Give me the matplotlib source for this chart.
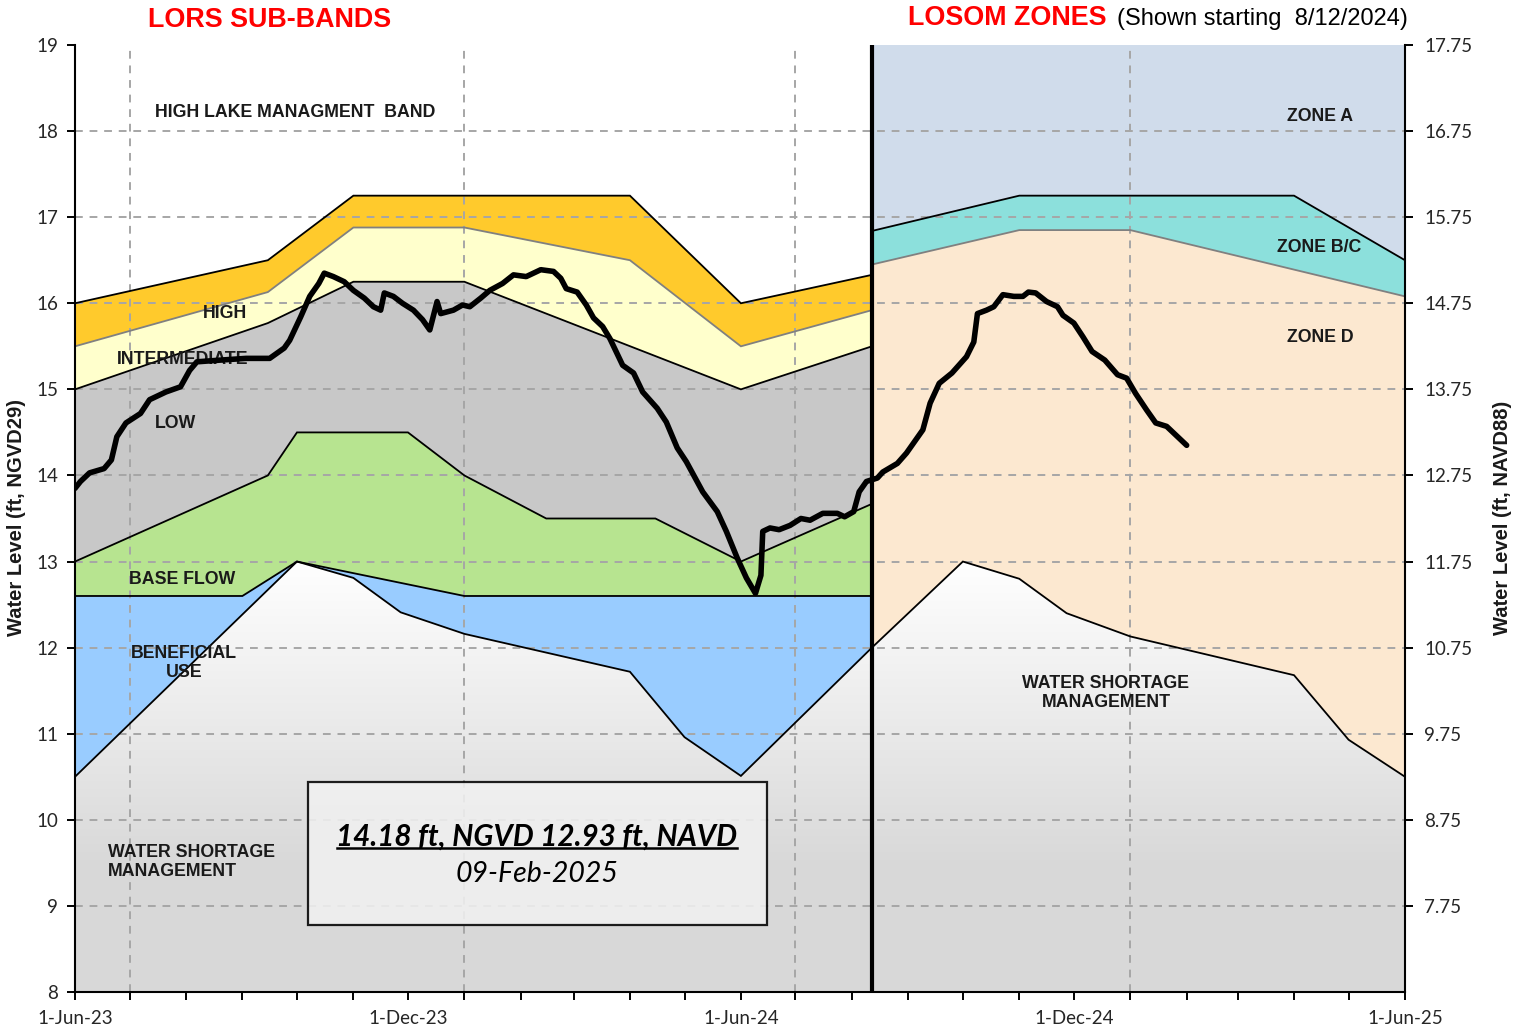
import matplotlib
matplotlib.use('Agg')
import matplotlib.pyplot as plt
import matplotlib.dates as mdates
import matplotlib.patches as mpatches
from matplotlib.lines import Line2D
import numpy as np
import pandas as pd

# ---------------- data ----------------
# LORS sub-band boundaries (ft NGVD29)
top_dates = ['2023-06-01', '2023-09-15', '2023-11-01', '2024-04-01', '2024-06-01', '2024-08-12']
top_vals = [16.0, 16.5, 17.25, 17.25, 16.0, 16.33]
hi_int_dates = ['2023-06-01', '2023-09-15', '2023-11-01', '2024-01-01', '2024-04-01', '2024-06-01', '2024-08-12']
hi_int_vals = [15.5, 16.13, 16.88, 16.88, 16.5, 15.5, 15.92]
int_low_dates = ['2023-06-01', '2023-09-15', '2023-11-01', '2024-01-01', '2024-06-01', '2024-08-12']
int_low_vals = [15.0, 15.77, 16.25, 16.25, 15.0, 15.5]
low_base_dates = ['2023-06-01', '2023-09-15', '2023-10-01', '2023-12-01', '2024-01-01', '2024-02-15',
                  '2024-04-15', '2024-06-01', '2024-08-12']
low_base_vals = [13.0, 14.0, 14.5, 14.5, 14.0, 13.5, 13.5, 13.0, 13.67]
base_ben_dates = ['2023-06-01', '2023-09-01', '2023-10-01', '2024-01-01', '2024-08-12']
base_ben_vals = [12.6, 12.6, 13.0, 12.6, 12.6]
lors_ws_dates = ['2023-06-01', '2023-10-01', '2023-11-01', '2023-11-27', '2024-01-01', '2024-04-01',
                 '2024-05-01', '2024-06-01', '2024-08-12']
lors_ws_vals = [10.5, 13.0, 12.81, 12.41, 12.16, 11.72, 10.96, 10.51, 12.0]

# LOSOM zone boundaries
losom_a_dates = ['2024-08-12', '2024-11-01', '2025-04-01', '2025-06-01']
losom_a_vals = [16.84, 17.25, 17.25, 16.5]
losom_bc_dates = ['2024-08-12', '2024-11-01', '2025-01-01', '2025-06-01']
losom_bc_vals = [16.45, 16.85, 16.85, 16.08]
losom_ws_dates = ['2024-08-12', '2024-10-01', '2024-11-01', '2024-11-27', '2025-01-01', '2025-04-01',
                  '2025-05-01', '2025-06-01']
losom_ws_vals = [12.0, 13.0, 12.8, 12.40, 12.13, 11.68, 10.93, 10.5]

# Observed lake stage
level_dates = ['2023-06-01', '2023-06-04', '2023-06-09', '2023-06-17', '2023-06-21', '2023-06-24', '2023-06-29',
               '2023-07-07', '2023-07-12', '2023-07-21', '2023-07-29', '2023-08-03', '2023-08-07', '2023-08-20',
               '2023-09-03', '2023-09-16', '2023-09-24', '2023-09-27', '2023-10-03', '2023-10-08', '2023-10-13',
               '2023-10-16', '2023-10-21', '2023-10-27', '2023-11-01', '2023-11-07', '2023-11-12', '2023-11-16',
               '2023-11-18', '2023-11-23', '2023-11-28', '2023-12-04', '2023-12-09', '2023-12-13', '2023-12-17',
               '2023-12-19', '2023-12-26', '2023-12-31', '2024-01-04', '2024-01-10', '2024-01-15', '2024-01-22',
               '2024-01-28', '2024-02-04', '2024-02-12', '2024-02-19', '2024-02-23', '2024-02-26', '2024-03-03',
               '2024-03-08', '2024-03-12', '2024-03-17', '2024-03-21', '2024-03-28', '2024-04-03', '2024-04-08',
               '2024-04-16', '2024-04-21', '2024-04-27', '2024-05-02', '2024-05-11', '2024-05-19', '2024-05-24',
               '2024-05-30', '2024-06-04', '2024-06-09', '2024-06-12', '2024-06-13', '2024-06-17', '2024-06-22',
               '2024-06-28', '2024-07-04', '2024-07-09', '2024-07-16', '2024-07-24', '2024-07-28', '2024-08-02',
               '2024-08-05', '2024-08-09', '2024-08-15', '2024-08-18', '2024-08-26', '2024-08-31', '2024-09-09',
               '2024-09-13', '2024-09-18', '2024-09-25', '2024-10-03', '2024-10-07', '2024-10-09', '2024-10-14',
               '2024-10-18', '2024-10-23', '2024-10-29', '2024-11-03', '2024-11-06', '2024-11-10', '2024-11-16',
               '2024-11-22', '2024-11-25', '2024-12-01', '2024-12-06', '2024-12-11', '2024-12-18', '2024-12-25',
               '2024-12-30', '2025-01-04', '2025-01-10', '2025-01-15', '2025-01-21', '2025-01-26', '2025-02-01']
level_vals = [13.85, 13.93, 14.03, 14.08, 14.18, 14.45, 14.61,
              14.72, 14.88, 14.97, 15.03, 15.22, 15.32, 15.34,
              15.36, 15.36, 15.48, 15.57, 15.84, 16.08, 16.23,
              16.35, 16.31, 16.25, 16.15, 16.06, 15.96, 15.92,
              16.12, 16.08, 16.00, 15.92, 15.81, 15.69, 16.02,
              15.88, 15.92, 15.98, 15.96, 16.06, 16.15, 16.23,
              16.33, 16.31, 16.39, 16.37, 16.29, 16.17, 16.13,
              15.98, 15.83, 15.73, 15.59, 15.28, 15.19, 14.97,
              14.78, 14.62, 14.32, 14.16, 13.81, 13.58, 13.35,
              13.04, 12.81, 12.63, 12.84, 13.35, 13.39, 13.37,
              13.42, 13.50, 13.48, 13.56, 13.56, 13.52, 13.58,
              13.81, 13.93, 13.97, 14.04, 14.14, 14.26, 14.53,
              14.84, 15.07, 15.19, 15.38, 15.55, 15.88, 15.92,
              15.96, 16.10, 16.08, 16.08, 16.13, 16.12, 16.02,
              15.96, 15.86, 15.77, 15.61, 15.44, 15.34, 15.17,
              15.13, 14.95, 14.76, 14.61, 14.57, 14.47, 14.35]

x_start, x_end = '2023-06-01', '2025-06-01'
losom_start = '2024-08-12'
vgrid_dates = ['2023-07-01', '2024-01-01', '2024-07-01', '2025-01-01']
y_min, y_max = 8, 19
navd_offset = 1.25
right_ticks = [7.75, 8.75, 9.75, 10.75, 11.75, 12.75, 13.75, 14.75, 15.75, 16.75, 17.75]
box_line1 = '14.18 ft, NGVD 12.93 ft, NAVD'
box_line2 = '09-Feb-2025'

# ---------------- figure ----------------
W, H = 1530, 1034
fig = plt.figure(figsize=(W / 100, H / 100), dpi=100)
ax = fig.add_axes([75 / W, 1 - 992 / H, 1330 / W, 947 / H])


def fx(px):
    return px / W


def fy(py):
    return 1 - py / H


def dn(dates):
    return list(mdates.date2num(pd.to_datetime(dates)))


# gradient background (white above, light grey below)
yy = np.linspace(y_min, y_max, 400)
g = np.clip(1.0 - 0.15 * (13.0 - yy) / 3.5, 0.85, 1.0)
grad = np.repeat(g[:, None], 2, axis=1)
rgb = np.dstack([grad, grad, grad])
ax.imshow(rgb, extent=[0, 1, y_min, y_max], transform=ax.get_yaxis_transform(),
          aspect='auto', origin='lower', zorder=0, interpolation='bilinear')
ax.set_xlim(dn([x_start])[0], dn([x_end])[0])
ax.set_ylim(y_min, y_max)


def band(ud, uv, ld, lv, color):
    xs = dn(ud) + dn(ld)[::-1]
    ys = list(uv) + list(lv)[::-1]
    ax.fill(xs, ys, color=color, lw=0, zorder=1)


# LORS bands
band(top_dates, top_vals, hi_int_dates, hi_int_vals, '#FFCA2C')
band(hi_int_dates, hi_int_vals, int_low_dates, int_low_vals, '#FFFFCC')
band(int_low_dates, int_low_vals, low_base_dates, low_base_vals, '#C8C8C8')
band(low_base_dates, low_base_vals, base_ben_dates, base_ben_vals, '#B7E490')
band(base_ben_dates, base_ben_vals, lors_ws_dates, lors_ws_vals, '#99CCFF')

# LOSOM zones
band([losom_start, x_end], [y_max, y_max], losom_a_dates, losom_a_vals, '#D0DCEB')
band(losom_a_dates, losom_a_vals, losom_bc_dates, losom_bc_vals, '#8CE0DC')
band(losom_bc_dates, losom_bc_vals, losom_ws_dates, losom_ws_vals, '#FCE8D0')

# boundary lines
for d, v, c in [(top_dates, top_vals, 'black'), (hi_int_dates, hi_int_vals, '#808080'),
                (int_low_dates, int_low_vals, 'black'), (low_base_dates, low_base_vals, 'black'),
                (base_ben_dates, base_ben_vals, 'black'), (lors_ws_dates, lors_ws_vals, 'black'),
                (losom_a_dates, losom_a_vals, 'black'), (losom_bc_dates, losom_bc_vals, '#808080'),
                (losom_ws_dates, losom_ws_vals, 'black')]:
    ax.plot(dn(d), v, color=c, lw=1.3, zorder=3, solid_joinstyle='miter')

# grid
dash = (0, (4, 3.5))
for yv in range(y_min + 1, y_max):
    ax.axhline(yv, color='#A6A6A6', lw=1.4, linestyle=dash, zorder=2)
for d in dn(vgrid_dates):
    ax.axvline(d, color='#A6A6A6', lw=1.4, linestyle=dash, zorder=2)

# LOSOM start divider
ax.axvline(dn([losom_start])[0], color='black', lw=3.0, zorder=4)

# observed stage
ax.plot(dn(level_dates), level_vals, color='black', lw=4.0, zorder=5,
        solid_joinstyle='round', solid_capstyle='round')

# axes styling
for s in ['top', 'right']:
    ax.spines[s].set_visible(False)
for s in ['left', 'bottom']:
    ax.spines[s].set_linewidth(1.5)
    ax.spines[s].set_zorder(6)

ax.set_yticks(range(y_min, y_max + 1))
ax.xaxis.set_major_locator(mdates.MonthLocator(bymonth=[6, 12], bymonthday=1))
ax.xaxis.set_minor_locator(mdates.MonthLocator(bymonthday=1))
ax.xaxis.set_major_formatter(matplotlib.ticker.FuncFormatter(
    lambda v, p: (lambda d: f"{d.day}-{d:%b-%y}")(mdates.num2date(v))))
ax.tick_params(axis='both', which='both', direction='out', length=6, width=1.4, color='black',
               labelsize=13.5, labelcolor='#262626')
ax.tick_params(axis='x', which='major', pad=7)
ax.tick_params(axis='y', pad=6)
for lab in ax.get_xticklabels() + ax.get_yticklabels():
    lab.set_family('Lato')

ax2 = ax.twinx()
ax2.set_ylim(y_min - navd_offset, y_max - navd_offset)
ax2.set_yticks(right_ticks)
ax2.set_yticklabels([f"{t:.2f}" for t in right_ticks])
for s in ['top', 'left', 'bottom']:
    ax2.spines[s].set_visible(False)
ax2.spines['right'].set_linewidth(1.5)
ax2.tick_params(axis='y', direction='out', length=6, width=1.4, labelsize=13.5, labelcolor='#262626', pad=8)
for lab in ax2.get_yticklabels():
    lab.set_family('Lato')

# axis titles
fig.text(fx(17), fy(518), 'Water Level (ft, NGVD29)', rotation=90, ha='center', va='center',
         fontsize=14.5, fontweight='bold', family='Liberation Sans', color='#1a1a1a')
fig.text(fx(1503), fy(518), 'Water Level (ft, NAVD88)', rotation=90, ha='center', va='center',
         fontsize=14.5, fontweight='bold', family='Liberation Sans', color='#1a1a1a')

# headings
fig.text(fx(270), fy(20), 'LORS SUB-BANDS', color='#FF0000', fontsize=19.4, fontweight='bold',
         ha='center', va='center', family='Liberation Sans')
fig.text(fx(1107), fy(18), 'LOSOM ZONES', color='#FF0000', fontsize=19.4, fontweight='bold',
         ha='right', va='center', family='Liberation Sans')
fig.text(fx(1117), fy(19), '(Shown starting  8/12/2024)', color='black', fontsize=17,
         ha='left', va='center', family='Liberation Sans')

# band / zone labels
lab_kw = dict(fontsize=12.8, fontweight='bold', family='Liberation Sans', color='#1a1a1a',
              transform=fig.transFigure, zorder=4.5)
ax.text(fx(295), fy(113), 'HIGH LAKE MANAGMENT  BAND', ha='center', va='center', **lab_kw)
ax.text(fx(225), fy(313), 'HIGH', ha='center', va='center', **lab_kw)
ax.text(fx(183), fy(359), 'INTERMEDIATE', ha='center', va='center', **lab_kw)
ax.text(fx(175), fy(424), 'LOW', ha='center', va='center', **lab_kw)
ax.text(fx(182), fy(579), 'BASE FLOW', ha='center', va='center', **lab_kw)
ax.text(fx(184), fy(663), 'BENEFICIAL\nUSE', ha='center', va='center', multialignment='center',
        linespacing=1.2, **lab_kw)
ax.text(fx(108), fy(862), 'WATER SHORTAGE\nMANAGEMENT', ha='left', va='center', multialignment='left',
        linespacing=1.2, **lab_kw)
ax.text(fx(1320), fy(116), 'ZONE A', ha='center', va='center', **lab_kw)
ax.text(fx(1319), fy(247), 'ZONE B/C', ha='center', va='center', **lab_kw)
ax.text(fx(1320), fy(337), 'ZONE D', ha='center', va='center', **lab_kw)
ax.text(fx(1106), fy(693), 'WATER SHORTAGE\nMANAGEMENT', ha='center', va='center', multialignment='center',
        linespacing=1.2, **lab_kw)

# info box
box = mpatches.Rectangle((fx(308), fy(925)), (767 - 308) / W, (925 - 782) / H, transform=fig.transFigure,
                         facecolor='#F0F0F0', edgecolor='black', lw=1.6, alpha=0.88, zorder=6)
ax.add_patch(box)
box.set_clip_on(False)
t1 = ax.text(fx(537), fy(837), box_line1, ha='center', va='center', fontsize=21.3, fontweight='bold',
             style='italic', family='Lato', color='black', transform=fig.transFigure, zorder=7)
ax.text(fx(537), fy(874), box_line2, ha='center', va='center', fontsize=20.5, style='italic',
        family='Lato', color='black', transform=fig.transFigure, zorder=7)

fig.canvas.draw()
bb = t1.get_window_extent()
uy = bb.y0 + 3
fig.add_artist(Line2D([bb.x0 + 1, bb.x1 - 1], [uy, uy], transform=None, color='black', lw=1.8, zorder=8))

fig.savefig('out.png', dpi=100)
